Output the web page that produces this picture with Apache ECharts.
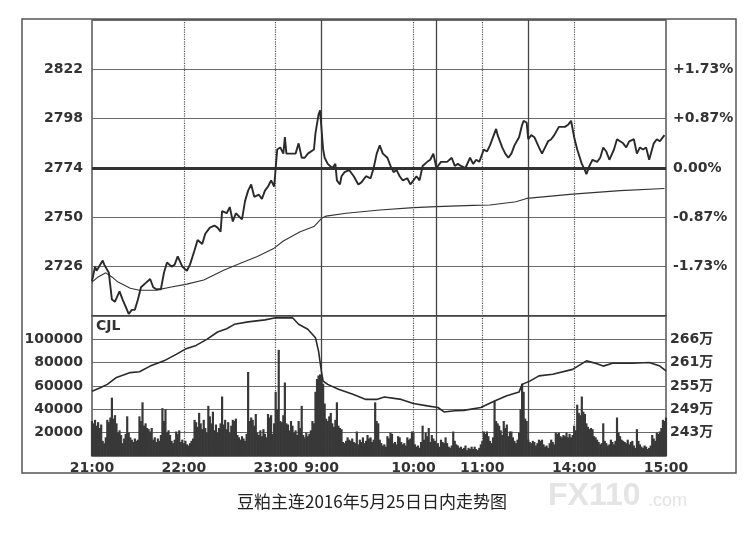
<!DOCTYPE html>
<html><head><meta charset="utf-8">
<script src="https://cdn.jsdelivr.net/npm/echarts@6/dist/echarts.min.js"></script>
<style>html,body{margin:0;padding:0;background:#fff}#c{width:752px;height:549px}</style>
</head><body><div id="c"></div>
<script>
// ---------- data ----------
const PREV_CLOSE = 2774;          // 0.00% reference price
const OI_BASE = 237.65;           // 万, open interest at bottom of lower panel
const sessions = [['21:00','23:30'],['9:00','10:15'],['10:30','11:30'],['13:30','15:00']];
const shownTimeLabels = ['21:00','22:00','23:00','9:00','10:00','11:00','14:00','15:00'];
const dottedTimes = ['22:00','23:00','10:00','11:00','14:00'];
const solidTimes = ['9:00','10:30','13:30'];
const priceTicks = [2726, 2750, 2774, 2798, 2822];

// [minute index, price]
const pricePoints = [[0,2719],[2,2726],[3,2724],[7,2729],[8,2727],[11,2723],[13,2710],[15,2709],[18,2714],[20,2710],
[24,2703],[26,2705],[28,2705],[30,2710],[32,2716],[35,2718],[38,2720],[40,2716],[42,2715],[45,2715],
[47,2723],[49,2728],[52,2726],[54,2727],[56,2731],[59,2726],[62,2724],[64,2727],[67,2734],[69,2739],
[72,2737],[74,2742],[77,2745],[80,2746],[82,2745],[84,2743],[85,2753],[88,2752],[90,2755],[92,2748],
[94,2752],[98,2749],[100,2758],[102,2763],[104,2766],[106,2760],[109,2761],[111,2759],[113,2763],[115,2765],
[117,2768],[119,2765],[121,2783],[123,2784],[125,2781],[126,2789],[127,2781],[130,2781],[133,2781],[135,2786],
[137,2779],[139,2779],[141,2781],[145,2783],[146,2791],[148,2800],[149,2802],[151,2783],[152,2779],[154,2776],
[157,2774],[159,2776],[160,2768],[162,2766],[163,2770],[165,2772],[168,2773],[171,2770],[174,2766],[176,2767],
[179,2770],[182,2769],[184,2774],[186,2781],[188,2785],[190,2781],[193,2779],[195,2775],[197,2772],[199,2773],
[201,2770],[203,2768],[206,2769],[208,2766],[210,2768],[212,2770],[214,2768],[216,2775],[219,2777],[221,2778],
[223,2781],[225,2774],[226,2775],[228,2777],[232,2777],[235,2779],[237,2775],[239,2776],[241,2775],[244,2774],
[247,2779],[249,2776],[251,2778],[253,2777],[256,2783],[258,2782],[260,2785],[262,2789],[264,2793],[265,2790],
[268,2784],[270,2781],[272,2779],[274,2781],[276,2785],[279,2789],[281,2795],[282,2797],[284,2796],[285,2788],
[287,2790],[289,2789],[292,2784],[294,2781],[296,2784],[298,2787],[300,2788],[302,2790],[305,2794],[307,2794],
[309,2794],[311,2795],[313,2797],[315,2789],[317,2783],[320,2776],[322,2773],[323,2771],[325,2775],[327,2778],
[330,2777],[332,2779],[334,2784],[336,2782],[338,2778],[341,2783],[343,2788],[345,2787],[347,2786],[349,2784],
[351,2787],[354,2788],[356,2781],[358,2784],[360,2783],[362,2784],[364,2778],[367,2786],[369,2788],[371,2787],
[373,2789],[374,2790]];

const avgMinute = [0,4,9,13,17,25,31,42,51,62,73,86,95,108,119,125,136,145,150,153,166,188,210,225,249,260,277,284,314,345,374];
const avgValue = [2718.5,2721,2723,2721,2718.5,2715.5,2714.5,2714.6,2716,2717.5,2719.5,2724.3,2727,2731,2735,2738.5,2743,2745.5,2749.5,2750.6,2752,2753.6,2754.7,2755.2,2755.8,2756,2757.6,2759.2,2761.3,2763,2764];

const volume = [
30000,28000,31000,26000,29000,24000,27000,13000,11000,16000,
31000,29000,33000,50000,32000,35000,28000,20000,22000,18000,
11000,15000,19000,34000,20000,16000,14000,12000,15000,13000,
14000,34000,30000,46000,26000,28000,24000,23000,21000,24000,
14000,16000,12000,15000,13000,18000,41000,30000,40000,20000,
22000,18000,13000,11000,14000,21000,19000,22000,12000,14000,
11000,13000,10000,9000,11000,13000,15000,31000,29000,25000,
37000,28000,23000,31000,24000,20000,43000,34000,28000,38000,
22000,27000,20000,24000,28000,51000,27000,31000,23000,29000,
20000,26000,31000,30000,32000,18000,16000,14000,17000,15000,
13000,19000,72000,30000,33000,31000,26000,36000,20000,18000,
22000,17000,23000,19000,16000,36000,33000,35000,19000,28000,
55000,40000,91000,30000,29000,35000,63000,28000,27000,22000,
30000,26000,20000,22000,18000,30000,24000,43000,18000,16000,
20000,17000,19000,22000,30000,28000,55000,66000,69000,70000,
67000,62000,45000,32000,30000,34000,37000,28000,25000,31000,
46000,26000,24000,23000,12000,11000,13000,16000,14000,13000,
15000,12000,11000,21000,10000,14000,12000,16000,11000,13000,
18000,15000,16000,12000,14000,46000,30000,28000,14000,11000,
9000,10000,8000,17000,15000,20000,19000,11000,12000,10000,
17000,16000,12000,10000,11000,9000,16000,14000,15000,21000,
20000,10000,8000,9000,7000,12000,26000,14000,20000,17000,
24000,12000,18000,15000,13000,9000,11000,8000,14000,12000,
11000,16000,11000,8000,7000,9000,21000,13000,10000,9000,
7000,8000,6000,7000,9000,5000,7000,6000,8000,6000,
8000,6000,5000,7000,10000,13000,21000,19000,21000,17000,
13000,11000,16000,47000,30000,28000,26000,22000,18000,30000,
24000,27000,17000,21000,21000,16000,13000,11000,14000,20000,
40000,62000,55000,32000,30000,14000,12000,11000,13000,12000,
9000,11000,14000,13000,14000,10000,8000,9000,7000,11000,
14000,12000,10000,20000,19000,20000,17000,16000,18000,17000,
20000,16000,19000,16000,18000,26000,22000,44000,37000,35000,
51000,38000,36000,28000,25000,23000,24000,23000,17000,16000,
14000,12000,10000,11000,28000,13000,11000,9000,10000,14000,
12000,10000,13000,33000,20000,17000,14000,13000,12000,11000,
14000,10000,12000,13000,9000,7000,23000,13000,10000,8000,
7000,9000,8000,6000,7000,9000,18000,15000,13000,20000,
19000,21000,24000,31000,30000,33000];

const oiMinute = [0,5,10,16,25,31,38,47,55,61,68,75,82,88,93,102,113,120,131,135,141,146,148,150,151,154,161,170,179,186,191,202,210,219,226,230,237,243,254,263,271,279,280,281,286,292,301,314,323,328,334,340,353,364,371,375];
const oiValue = [253.6,254.4,255.3,257,258.2,258.4,259.8,261.1,262.7,264,264.9,266.4,268.2,269,270.1,270.7,271.2,271.7,271.7,270.1,268.9,266.8,263.5,258.2,256.1,255.3,254.1,252.9,251.6,251.6,252.2,251.6,250.6,250,249.6,248.5,248.8,248.9,249.6,251.2,252.5,253.4,253.7,255.3,256.1,257.4,257.8,259,261.1,260.6,259.8,260.5,260.5,260.7,259.8,258.6];

// ---------- build ----------
function toMin(t){const [h,m]=t.split(':').map(Number);return h*60+m;}
function fmt(m){const h=Math.floor(m/60), mm=m%60;return h+':'+(mm<10?'0':'')+mm;}
const categories = [];
sessions.forEach(([s,e])=>{for(let m=toMin(s);m<toMin(e);m++)categories.push(fmt(m));});
categories.push(sessions[sessions.length-1][1]);

const FONT = "'DejaVu Sans','Noto Sans CJK SC',sans-serif";
const labelStyle = {fontFamily:FONT,fontWeight:'bold',fontSize:14,color:'#333'};
const gridLine = {show:true,lineStyle:{color:'#6a6a6a',width:1}};

const vLines = dottedTimes.map(t=>({xAxis:t,lineStyle:{type:'dotted',color:'#555',width:1.2}}))
  .concat(solidTimes.map(t=>({xAxis:t,lineStyle:{type:'solid',color:'#444',width:1.3}})));

const chart = echarts.init(document.getElementById('c'),null,{renderer:'canvas'});
chart.setOption({
  animation:false,
  backgroundColor:'#fff',
  grid:[
    {left:92,right:86,top:20,height:296,show:true,borderColor:'#3a3a3a',borderWidth:1.3},
    {left:92,right:86,top:316,height:140,show:true,borderColor:'#3a3a3a',borderWidth:1.3}
  ],
  xAxis:[
    {type:'category',gridIndex:0,data:categories,boundaryGap:false,axisLine:{show:false},axisTick:{show:false},axisLabel:{show:false},splitLine:{show:false}},
    {type:'category',gridIndex:1,data:categories,boundaryGap:false,axisLine:{show:false},axisTick:{show:false},splitLine:{show:false},
     axisLabel:Object.assign({margin:5,interval:(i,v)=>shownTimeLabels.includes(v)},labelStyle)}
  ],
  yAxis:[
    {type:'value',gridIndex:0,position:'left',min:-72,max:72,interval:24,axisLine:{show:false},axisTick:{show:false},splitLine:gridLine,
     axisLabel:Object.assign({margin:9,showMinLabel:false,showMaxLabel:false,formatter:v=>{const p=PREV_CLOSE+v;return priceTicks.includes(p)?String(p):'';}},labelStyle)},
    {type:'value',gridIndex:0,position:'right',min:-72,max:72,interval:24,axisLine:{show:false},axisTick:{show:false},splitLine:{show:false},
     axisLabel:Object.assign({margin:7,showMinLabel:false,showMaxLabel:false,formatter:v=>{const p=(v/PREV_CLOSE*100).toFixed(2);return (v>0?'+':'')+p+'%';}},labelStyle)},
    {type:'value',gridIndex:1,position:'left',min:0,max:120000,interval:20000,axisLine:{show:false},axisTick:{show:false},splitLine:gridLine,
     axisLabel:Object.assign({margin:9,showMinLabel:false,showMaxLabel:false,formatter:v=>String(v)},labelStyle)},
    {type:'value',gridIndex:1,position:'right',min:0,max:34.5,interval:5.75,axisLine:{show:false},axisTick:{show:false},splitLine:{show:false},
     axisLabel:Object.assign({margin:4,showMinLabel:false,showMaxLabel:false,formatter:v=>Math.round(v+OI_BASE)+'万'},labelStyle)}
  ],
  series:[
    {type:'line',name:'avg',xAxisIndex:0,yAxisIndex:0,symbol:'none',silent:true,z:3,
     data:avgMinute.map((m,i)=>[m,avgValue[i]-PREV_CLOSE]),lineStyle:{color:'#333',width:1.1},
     markLine:{silent:true,symbol:'none',label:{show:false},data:vLines.concat([{yAxis:0,lineStyle:{type:'solid',color:'#333',width:3}}])}},
    {type:'line',name:'price',xAxisIndex:0,yAxisIndex:0,symbol:'none',silent:true,z:5,
     data:pricePoints.map(p=>[p[0],p[1]-PREV_CLOSE]),lineStyle:{color:'#2a2a2a',width:1.9}},
    {type:'bar',name:'CJL',xAxisIndex:1,yAxisIndex:2,silent:true,z:3,barWidth:2.2,
     data:volume,itemStyle:{color:'#383838'}},
    {type:'line',name:'oi',xAxisIndex:1,yAxisIndex:3,symbol:'none',silent:true,z:4,
     data:oiMinute.map((m,i)=>[m,oiValue[i]-OI_BASE]),lineStyle:{color:'#2a2a2a',width:1.6},
     markLine:{silent:true,symbol:'none',label:{show:false},z:2,data:vLines}}
  ],
  graphic:[
    {type:'rect',silent:true,shape:{x:22,y:19,width:714,height:454},style:{fill:'none',stroke:'#555',lineWidth:1.5}},
    {type:'text',silent:true,left:96,top:319,style:{text:'CJL',font:"bold 14px 'DejaVu Sans'",fill:'#333'}},
    {type:'text',silent:true,left:237,top:493,style:{text:'豆粕主连2016年5月25日日内走势图',font:"17px 'Noto Sans CJK SC'",fill:'#222'}},
    {type:'text',silent:true,left:548,top:480,style:{text:'FX110',font:"bold 32px 'Liberation Sans'",fill:'#e4e4e4'}},
    {type:'text',silent:true,left:648,top:492,style:{text:'.com',font:"18px 'Liberation Sans'",fill:'#e4e4e4'}}
  ]
});
</script></body></html>
